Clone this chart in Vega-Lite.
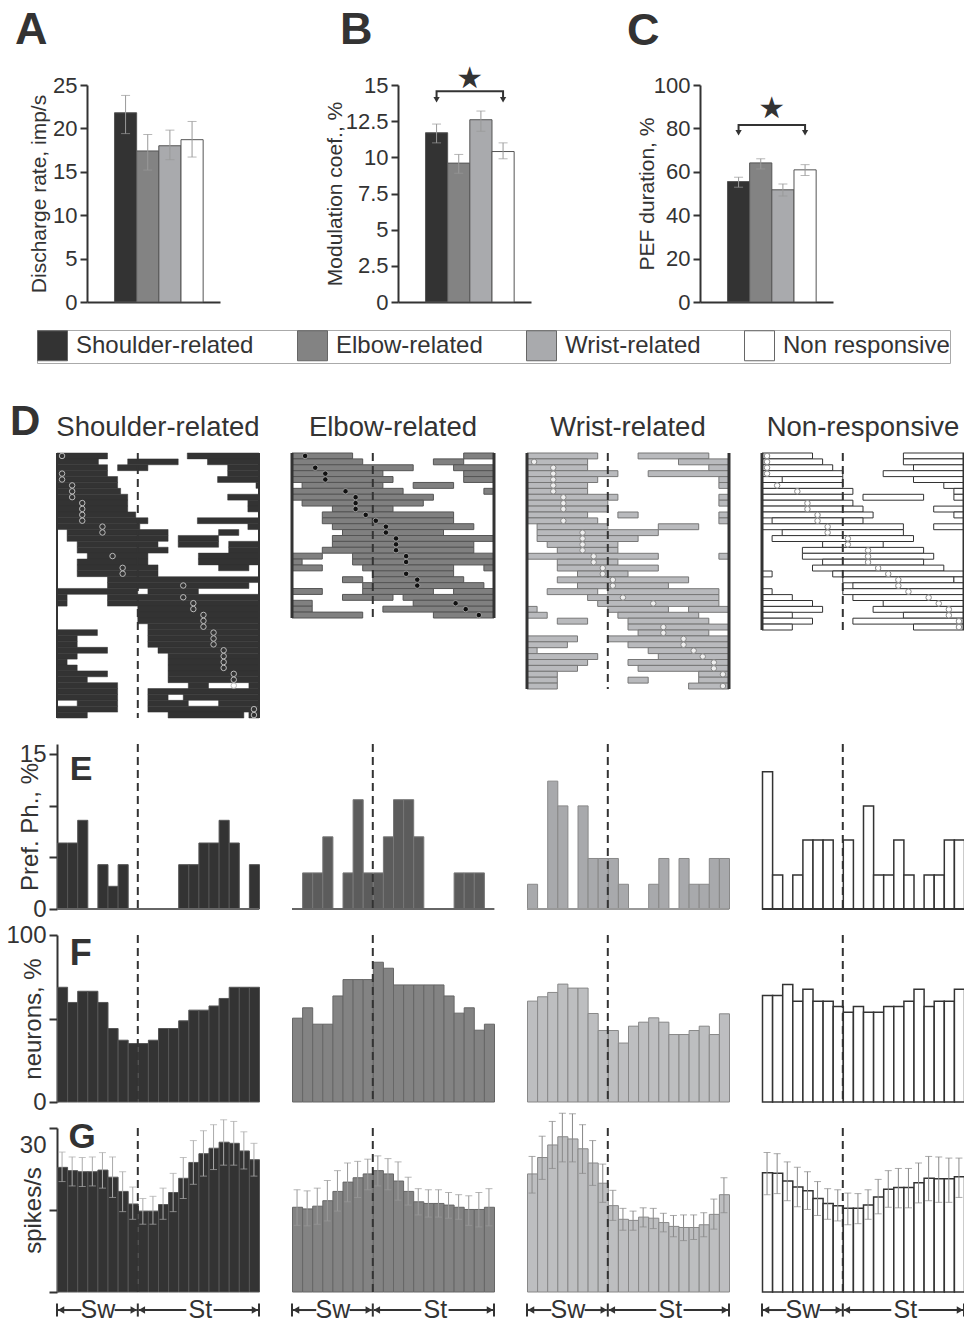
{
"$schema":"https://vega.github.io/schema/vega-lite/v6.json",
"padding":{"left":5,"top":8,"right":0,"bottom":0},
"autosize":{"type":"pad"},
"columns":4,
"bounds":"flush",
"spacing":{"row":26,"column":33},
"datasets":{
"top":[
{"group":"Shoulder-related","rate":21.8,"rate_lo":19.4,"rate_hi":23.8,"mod":11.7,"mod_lo":11.0,"mod_hi":12.3,"pef":55.5,"pef_lo":52.9,"pef_hi":57.5},
{"group":"Elbow-related","rate":17.4,"rate_lo":15.2,"rate_hi":19.3,"mod":9.6,"mod_lo":8.9,"mod_hi":10.2,"pef":64.1,"pef_lo":61.3,"pef_hi":66.0},
{"group":"Wrist-related","rate":18.0,"rate_lo":16.4,"rate_hi":19.8,"mod":12.6,"mod_lo":11.8,"mod_hi":13.2,"pef":51.7,"pef_lo":48.8,"pef_hi":54.4},
{"group":"Non responsive","rate":18.7,"rate_lo":16.7,"rate_hi":20.8,"mod":10.4,"mod_lo":9.9,"mod_hi":11.0,"pef":60.9,"pef_lo":58.3,"pef_hi":63.3}
],
"bracketB":[
{"group":"Shoulder-related","y":14.1,"o":0},{"group":"Shoulder-related","y":14.56,"o":1},{"group":"Non responsive","y":14.56,"o":2},{"group":"Non responsive","y":14.1,"o":3}
],
"headsB":[{"group":"Shoulder-related","y":13.98},{"group":"Non responsive","y":13.98}],
"starB":[{"group":"Elbow-related","y":15.4,"t":"★"}],
"bracketC":[
{"group":"Shoulder-related","y":79.0,"o":0},{"group":"Shoulder-related","y":81.6,"o":1},{"group":"Non responsive","y":81.6,"o":2},{"group":"Non responsive","y":79.0,"o":3}
],
"headsC":[{"group":"Shoulder-related","y":78.0},{"group":"Non responsive","y":78.0}],
"starC":[{"group":"Elbow-related","y":89,"t":"★"}],
"bins":[
{"g":"S","p":0.5,"pref":6.4,"pct":68.7,"spk":22.8,"lo":20.2,"hi":25.6},
{"g":"S","p":1.5,"pref":6.4,"pct":59.6,"spk":22.2,"lo":19.4,"hi":24.7},
{"g":"S","p":2.5,"pref":8.6,"pct":66.3,"spk":22.0,"lo":19.3,"hi":24.6},
{"g":"S","p":3.5,"pref":0,"pct":66.3,"spk":22.0,"lo":19.4,"hi":24.7},
{"g":"S","p":4.5,"pref":4.3,"pct":59.6,"spk":22.3,"lo":19.0,"hi":25.5},
{"g":"S","p":5.5,"pref":2.2,"pct":44,"spk":21.0,"lo":17.3,"hi":24.7},
{"g":"S","p":6.5,"pref":4.3,"pct":37,"spk":18.4,"lo":14.7,"hi":22.0},
{"g":"S","p":7.5,"pref":0,"pct":35,"spk":16.1,"lo":13.3,"hi":19.2},
{"g":"S","p":8.5,"pref":0,"pct":35,"spk":14.8,"lo":12.4,"hi":17.1},
{"g":"S","p":9.5,"pref":0,"pct":37,"spk":14.8,"lo":12.4,"hi":17.5},
{"g":"S","p":10.5,"pref":0,"pct":44,"spk":16.0,"lo":13.3,"hi":19.0},
{"g":"S","p":11.5,"pref":0,"pct":44,"spk":18.2,"lo":14.7,"hi":21.7},
{"g":"S","p":12.5,"pref":4.3,"pct":48.6,"spk":20.8,"lo":17.1,"hi":24.6},
{"g":"S","p":13.5,"pref":4.3,"pct":55,"spk":23.7,"lo":19.7,"hi":27.7},
{"g":"S","p":14.5,"pref":6.4,"pct":55,"spk":25.3,"lo":21.2,"hi":29.5},
{"g":"S","p":15.5,"pref":6.4,"pct":57.5,"spk":26.3,"lo":22.4,"hi":30.6},
{"g":"S","p":16.5,"pref":8.6,"pct":62,"spk":27.4,"lo":23.2,"hi":31.5},
{"g":"S","p":17.5,"pref":6.4,"pct":68.7,"spk":27.2,"lo":23.2,"hi":31.2},
{"g":"S","p":18.5,"pref":0,"pct":68.7,"spk":25.8,"lo":22.5,"hi":29.3},
{"g":"S","p":19.5,"pref":4.3,"pct":68.7,"spk":24.2,"lo":21.2,"hi":27.2},
{"g":"E","p":0.5,"pref":0,"pct":50.2,"spk":15.5,"lo":12.2,"hi":18.7},
{"g":"E","p":1.5,"pref":3.5,"pct":56.4,"spk":15.2,"lo":12.1,"hi":18.5},
{"g":"E","p":2.5,"pref":3.5,"pct":46.6,"spk":15.7,"lo":12.4,"hi":19.0},
{"g":"E","p":3.5,"pref":7,"pct":46.6,"spk":16.7,"lo":13.0,"hi":20.4},
{"g":"E","p":4.5,"pref":0,"pct":63.5,"spk":18.4,"lo":14.8,"hi":22.2},
{"g":"E","p":5.5,"pref":3.5,"pct":73.3,"spk":20.1,"lo":16.5,"hi":23.6},
{"g":"E","p":6.5,"pref":10.6,"pct":73.3,"spk":20.9,"lo":17.3,"hi":23.9},
{"g":"E","p":7.5,"pref":3.5,"pct":73.3,"spk":21.6,"lo":18.7,"hi":24.3},
{"g":"E","p":8.5,"pref":3.5,"pct":83.7,"spk":22.2,"lo":19.4,"hi":24.9},
{"g":"E","p":9.5,"pref":7,"pct":80.1,"spk":21.6,"lo":18.7,"hi":24.4},
{"g":"E","p":10.5,"pref":10.6,"pct":70.1,"spk":20.3,"lo":16.8,"hi":23.8},
{"g":"E","p":11.5,"pref":10.6,"pct":70.1,"spk":18.4,"lo":15.9,"hi":21.0},
{"g":"E","p":12.5,"pref":7,"pct":70.1,"spk":16.5,"lo":14.1,"hi":18.9},
{"g":"E","p":13.5,"pref":0,"pct":70.1,"spk":16.2,"lo":13.7,"hi":18.7},
{"g":"E","p":14.5,"pref":0,"pct":70.1,"spk":16.2,"lo":13.7,"hi":18.7},
{"g":"E","p":15.5,"pref":0,"pct":63.5,"spk":15.9,"lo":13.5,"hi":18.2},
{"g":"E","p":16.5,"pref":3.5,"pct":53.2,"spk":15.5,"lo":13.3,"hi":17.8},
{"g":"E","p":17.5,"pref":3.5,"pct":56.4,"spk":15.1,"lo":12.2,"hi":17.6},
{"g":"E","p":18.5,"pref":3.5,"pct":43,"spk":15.1,"lo":11.9,"hi":18.2},
{"g":"E","p":19.5,"pref":0,"pct":46.6,"spk":15.5,"lo":12.1,"hi":18.9},
{"g":"W","p":0.5,"pref":2.4,"pct":60.4,"spk":21.6,"lo":18.1,"hi":24.8},
{"g":"W","p":1.5,"pref":0,"pct":63,"spk":24.6,"lo":20.6,"hi":28.5},
{"g":"W","p":2.5,"pref":12.4,"pct":65.6,"spk":26.9,"lo":22.6,"hi":31.2},
{"g":"W","p":3.5,"pref":10,"pct":70.6,"spk":28.4,"lo":23.8,"hi":32.7},
{"g":"W","p":4.5,"pref":0,"pct":68.2,"spk":28.0,"lo":23.8,"hi":32.6},
{"g":"W","p":5.5,"pref":10,"pct":68.2,"spk":26.2,"lo":21.7,"hi":30.6},
{"g":"W","p":6.5,"pref":4.9,"pct":53,"spk":23.6,"lo":19.5,"hi":27.7},
{"g":"W","p":7.5,"pref":4.9,"pct":42.8,"spk":19.9,"lo":16.4,"hi":23.4},
{"g":"W","p":8.5,"pref":4.9,"pct":42.8,"spk":15.8,"lo":13.1,"hi":18.6},
{"g":"W","p":9.5,"pref":2.4,"pct":35.3,"spk":13.3,"lo":11.3,"hi":15.3},
{"g":"W","p":10.5,"pref":0,"pct":45.4,"spk":13.1,"lo":11.3,"hi":14.8},
{"g":"W","p":11.5,"pref":0,"pct":47.8,"spk":13.7,"lo":11.9,"hi":15.4},
{"g":"W","p":12.5,"pref":2.4,"pct":50.4,"spk":13.5,"lo":11.6,"hi":15.3},
{"g":"W","p":13.5,"pref":4.9,"pct":47.8,"spk":12.7,"lo":11.0,"hi":14.4},
{"g":"W","p":14.5,"pref":0,"pct":40.4,"spk":12.0,"lo":10.1,"hi":14.0},
{"g":"W","p":15.5,"pref":4.9,"pct":40.4,"spk":11.8,"lo":9.4,"hi":14.1},
{"g":"W","p":16.5,"pref":2.4,"pct":42.8,"spk":11.8,"lo":9.6,"hi":14.1},
{"g":"W","p":17.5,"pref":2.4,"pct":45.4,"spk":12.3,"lo":10.1,"hi":14.5},
{"g":"W","p":18.5,"pref":4.9,"pct":40.4,"spk":14.2,"lo":11.5,"hi":17.0},
{"g":"W","p":19.5,"pref":4.9,"pct":52.8,"spk":17.8,"lo":14.5,"hi":20.9},
{"g":"N","p":0.5,"pref":13.3,"pct":63.8,"spk":21.8,"lo":17.8,"hi":25.5},
{"g":"N","p":1.5,"pref":3.3,"pct":63.8,"spk":21.7,"lo":18.0,"hi":25.3},
{"g":"N","p":2.5,"pref":0,"pct":70.4,"spk":20.3,"lo":16.7,"hi":23.8},
{"g":"N","p":3.5,"pref":3.3,"pct":60.4,"spk":19.2,"lo":15.6,"hi":22.8},
{"g":"N","p":4.5,"pref":6.7,"pct":67.5,"spk":18.5,"lo":15.1,"hi":22.0},
{"g":"N","p":5.5,"pref":6.7,"pct":60.4,"spk":17.1,"lo":14.0,"hi":20.2},
{"g":"N","p":6.5,"pref":6.7,"pct":60.4,"spk":16.2,"lo":13.3,"hi":18.9},
{"g":"N","p":7.5,"pref":0,"pct":57.2,"spk":15.8,"lo":13.0,"hi":18.7},
{"g":"N","p":8.5,"pref":6.7,"pct":53.8,"spk":15.3,"lo":12.3,"hi":18.1},
{"g":"N","p":9.5,"pref":0,"pct":57.2,"spk":15.3,"lo":12.5,"hi":18.0},
{"g":"N","p":10.5,"pref":10,"pct":53.8,"spk":15.9,"lo":13.3,"hi":18.7},
{"g":"N","p":11.5,"pref":3.3,"pct":53.8,"spk":17.4,"lo":14.3,"hi":20.6},
{"g":"N","p":12.5,"pref":3.3,"pct":57.2,"spk":18.8,"lo":15.5,"hi":22.2},
{"g":"N","p":13.5,"pref":6.7,"pct":57.2,"spk":19.1,"lo":15.4,"hi":22.6},
{"g":"N","p":14.5,"pref":3.3,"pct":60.4,"spk":19.1,"lo":15.4,"hi":22.6},
{"g":"N","p":15.5,"pref":0,"pct":67.5,"spk":20.0,"lo":16.3,"hi":23.6},
{"g":"N","p":16.5,"pref":3.3,"pct":57.2,"spk":20.8,"lo":16.7,"hi":24.8},
{"g":"N","p":17.5,"pref":3.3,"pct":60.4,"spk":20.7,"lo":16.4,"hi":24.7},
{"g":"N","p":18.5,"pref":6.7,"pct":60.4,"spk":20.7,"lo":16.4,"hi":24.5},
{"g":"N","p":19.5,"pref":6.7,"pct":67.5,"spk":21.1,"lo":17.3,"hi":24.5}
],
"seg":[
{"g":"S","r":0,"a":0,"b":5},{"g":"S","r":0,"a":12.9,"b":20},
{"g":"S","r":1,"a":0,"b":4.1},{"g":"S","r":1,"a":7,"b":12},{"g":"S","r":1,"a":14.9,"b":20},
{"g":"S","r":2,"a":0,"b":5},{"g":"S","r":2,"a":6,"b":9},{"g":"S","r":2,"a":16.9,"b":20},
{"g":"S","r":3,"a":0,"b":5},{"g":"S","r":3,"a":16.9,"b":20},
{"g":"S","r":4,"a":0,"b":6},{"g":"S","r":4,"a":15.9,"b":20},
{"g":"S","r":5,"a":0,"b":6},{"g":"S","r":5,"a":19.7,"b":20},
{"g":"S","r":6,"a":0,"b":6.3},
{"g":"S","r":7,"a":0,"b":7},{"g":"S","r":7,"a":16.9,"b":20},
{"g":"S","r":8,"a":0,"b":7},{"g":"S","r":8,"a":18.9,"b":20},
{"g":"S","r":9,"a":0,"b":7},{"g":"S","r":9,"a":18.9,"b":20},
{"g":"S","r":10,"a":0,"b":7.8},
{"g":"S","r":11,"a":0,"b":9},{"g":"S","r":11,"a":13.9,"b":20},
{"g":"S","r":12,"a":0,"b":8.2},{"g":"S","r":12,"a":18.9,"b":20},
{"g":"S","r":13,"a":1,"b":11},{"g":"S","r":13,"a":16,"b":18},
{"g":"S","r":14,"a":1,"b":11},{"g":"S","r":14,"a":12,"b":16},
{"g":"S","r":15,"a":2,"b":10},{"g":"S","r":15,"a":12,"b":16},{"g":"S","r":15,"a":17,"b":20},
{"g":"S","r":16,"a":2,"b":11},{"g":"S","r":16,"a":17,"b":20},
{"g":"S","r":17,"a":3,"b":9},{"g":"S","r":17,"a":14,"b":20},
{"g":"S","r":18,"a":2,"b":9},{"g":"S","r":18,"a":14,"b":20},
{"g":"S","r":19,"a":2,"b":10},{"g":"S","r":19,"a":16,"b":19},
{"g":"S","r":20,"a":2,"b":10},
{"g":"S","r":21,"a":5,"b":20},
{"g":"S","r":22,"a":5,"b":19},
{"g":"S","r":23,"a":0,"b":8},{"g":"S","r":23,"a":9,"b":14},
{"g":"S","r":24,"a":0,"b":1},{"g":"S","r":24,"a":5,"b":20},
{"g":"S","r":25,"a":0,"b":1},{"g":"S","r":25,"a":5,"b":20},
{"g":"S","r":26,"a":8,"b":20},
{"g":"S","r":27,"a":8,"b":20},
{"g":"S","r":28,"a":8,"b":20},
{"g":"S","r":29,"a":9,"b":20},
{"g":"S","r":30,"a":0,"b":4},{"g":"S","r":30,"a":9,"b":20},
{"g":"S","r":31,"a":0,"b":2},{"g":"S","r":31,"a":9,"b":20},
{"g":"S","r":32,"a":0,"b":2},{"g":"S","r":32,"a":9,"b":20},
{"g":"S","r":33,"a":0,"b":5},{"g":"S","r":33,"a":10,"b":20},
{"g":"S","r":34,"a":0,"b":2},{"g":"S","r":34,"a":11,"b":20},
{"g":"S","r":35,"a":0,"b":1},{"g":"S","r":35,"a":11,"b":20},
{"g":"S","r":36,"a":0,"b":2},{"g":"S","r":36,"a":11,"b":20},
{"g":"S","r":37,"a":0,"b":5},{"g":"S","r":37,"a":11,"b":20},
{"g":"S","r":38,"a":0,"b":3},{"g":"S","r":38,"a":11,"b":20},
{"g":"S","r":39,"a":0,"b":6},{"g":"S","r":39,"a":13,"b":15},{"g":"S","r":39,"a":19,"b":20},
{"g":"S","r":40,"a":0,"b":6},{"g":"S","r":40,"a":9,"b":20},
{"g":"S","r":41,"a":0,"b":6},{"g":"S","r":41,"a":9,"b":11},{"g":"S","r":41,"a":12.5,"b":20},
{"g":"S","r":42,"a":2,"b":6},{"g":"S","r":42,"a":9,"b":13},{"g":"S","r":42,"a":16,"b":20},
{"g":"S","r":43,"a":0,"b":6},{"g":"S","r":43,"a":9,"b":20},
{"g":"S","r":44,"a":0,"b":3},{"g":"S","r":44,"a":11,"b":18.5},{"g":"S","r":44,"a":19,"b":20},
{"g":"E","r":0,"a":0,"b":6},{"g":"E","r":0,"a":17,"b":20},
{"g":"E","r":1,"a":0,"b":7},{"g":"E","r":1,"a":14,"b":17},
{"g":"E","r":2,"a":0,"b":12},{"g":"E","r":2,"a":16,"b":20},
{"g":"E","r":3,"a":0,"b":9},{"g":"E","r":3,"a":17,"b":20},
{"g":"E","r":4,"a":0,"b":10},{"g":"E","r":4,"a":17,"b":20},
{"g":"E","r":5,"a":1,"b":9},{"g":"E","r":5,"a":12,"b":16},
{"g":"E","r":6,"a":0,"b":11},{"g":"E","r":6,"a":19,"b":20},
{"g":"E","r":7,"a":0,"b":14},
{"g":"E","r":8,"a":1,"b":13},
{"g":"E","r":9,"a":4,"b":10},
{"g":"E","r":10,"a":3,"b":16},
{"g":"E","r":11,"a":3,"b":16},
{"g":"E","r":12,"a":4,"b":18},
{"g":"E","r":13,"a":5,"b":15},
{"g":"E","r":14,"a":4,"b":20},
{"g":"E","r":15,"a":4,"b":18},
{"g":"E","r":16,"a":3,"b":18},
{"g":"E","r":17,"a":0,"b":3},{"g":"E","r":17,"a":6,"b":20},
{"g":"E","r":18,"a":0,"b":1},{"g":"E","r":18,"a":6,"b":20},
{"g":"E","r":19,"a":0,"b":3},{"g":"E","r":19,"a":7,"b":16},{"g":"E","r":19,"a":19,"b":20},
{"g":"E","r":20,"a":8,"b":16},
{"g":"E","r":21,"a":5,"b":7},{"g":"E","r":21,"a":8,"b":17},
{"g":"E","r":22,"a":7,"b":19},
{"g":"E","r":23,"a":0,"b":3},{"g":"E","r":23,"a":7,"b":14},{"g":"E","r":23,"a":16,"b":20},
{"g":"E","r":24,"a":5,"b":10},{"g":"E","r":24,"a":11,"b":20},
{"g":"E","r":25,"a":0,"b":2},{"g":"E","r":25,"a":12,"b":20},
{"g":"E","r":26,"a":0,"b":2},{"g":"E","r":26,"a":9,"b":20},
{"g":"E","r":27,"a":0,"b":7},{"g":"E","r":27,"a":14,"b":20},
{"g":"W","r":0,"a":0,"b":7},{"g":"W","r":0,"a":11,"b":18},
{"g":"W","r":1,"a":0,"b":6},{"g":"W","r":1,"a":15,"b":20},
{"g":"W","r":2,"a":0,"b":6},{"g":"W","r":2,"a":18,"b":20},
{"g":"W","r":3,"a":0,"b":9},{"g":"W","r":3,"a":12,"b":20},
{"g":"W","r":4,"a":0,"b":7},{"g":"W","r":4,"a":19,"b":20},
{"g":"W","r":5,"a":0,"b":6},{"g":"W","r":5,"a":19,"b":20},
{"g":"W","r":6,"a":0,"b":6},
{"g":"W","r":7,"a":0,"b":9},{"g":"W","r":7,"a":19,"b":20},
{"g":"W","r":8,"a":0,"b":8},{"g":"W","r":8,"a":19,"b":20},
{"g":"W","r":9,"a":0,"b":8},
{"g":"W","r":10,"a":0,"b":6},{"g":"W","r":10,"a":9,"b":11},{"g":"W","r":10,"a":19,"b":20},
{"g":"W","r":11,"a":0,"b":7},{"g":"W","r":11,"a":19,"b":20},
{"g":"W","r":12,"a":1,"b":8},{"g":"W","r":12,"a":13,"b":17},
{"g":"W","r":13,"a":1,"b":13},
{"g":"W","r":14,"a":1,"b":11},
{"g":"W","r":15,"a":2,"b":9},
{"g":"W","r":16,"a":3,"b":9},
{"g":"W","r":17,"a":0,"b":13},{"g":"W","r":17,"a":19,"b":20},
{"g":"W","r":18,"a":3,"b":9},
{"g":"W","r":19,"a":3,"b":13},
{"g":"W","r":20,"a":5,"b":10},
{"g":"W","r":21,"a":3,"b":16},
{"g":"W","r":22,"a":5,"b":14},
{"g":"W","r":23,"a":2,"b":7},{"g":"W","r":23,"a":8,"b":19},
{"g":"W","r":24,"a":6,"b":19},
{"g":"W","r":25,"a":7,"b":19},
{"g":"W","r":26,"a":0,"b":1},{"g":"W","r":26,"a":8,"b":14},{"g":"W","r":26,"a":16,"b":20},
{"g":"W","r":27,"a":0,"b":2},{"g":"W","r":27,"a":9,"b":17},
{"g":"W","r":28,"a":3,"b":6},{"g":"W","r":28,"a":10,"b":18},
{"g":"W","r":29,"a":10,"b":20},
{"g":"W","r":30,"a":11,"b":18},
{"g":"W","r":31,"a":0,"b":5},{"g":"W","r":31,"a":8,"b":20},
{"g":"W","r":32,"a":0,"b":4},{"g":"W","r":32,"a":10,"b":20},
{"g":"W","r":33,"a":0,"b":1},{"g":"W","r":33,"a":12,"b":20},
{"g":"W","r":34,"a":0,"b":7},{"g":"W","r":34,"a":13,"b":20},
{"g":"W","r":35,"a":0,"b":6},{"g":"W","r":35,"a":10,"b":20},
{"g":"W","r":36,"a":0,"b":5},{"g":"W","r":36,"a":11,"b":20},
{"g":"W","r":37,"a":0,"b":3},{"g":"W","r":37,"a":17,"b":20},
{"g":"W","r":38,"a":0,"b":3},{"g":"W","r":38,"a":10,"b":12},{"g":"W","r":38,"a":17,"b":20},
{"g":"W","r":39,"a":0,"b":3},{"g":"W","r":39,"a":16,"b":20},
{"g":"N","r":0,"a":0,"b":5},{"g":"N","r":0,"a":14,"b":20},
{"g":"N","r":1,"a":0,"b":6},{"g":"N","r":1,"a":14,"b":20},
{"g":"N","r":2,"a":0,"b":7},{"g":"N","r":2,"a":15,"b":20},
{"g":"N","r":3,"a":0,"b":8},{"g":"N","r":3,"a":12,"b":20},
{"g":"N","r":4,"a":2,"b":8},{"g":"N","r":4,"a":15,"b":20},
{"g":"N","r":5,"a":0,"b":8},{"g":"N","r":5,"a":18,"b":20},
{"g":"N","r":6,"a":0,"b":9},{"g":"N","r":6,"a":19,"b":20},
{"g":"N","r":7,"a":0,"b":8},{"g":"N","r":7,"a":10,"b":16},{"g":"N","r":7,"a":19,"b":20},
{"g":"N","r":8,"a":0,"b":9},
{"g":"N","r":9,"a":0,"b":10},{"g":"N","r":9,"a":17,"b":20},
{"g":"N","r":10,"a":0,"b":11},{"g":"N","r":10,"a":19,"b":20},
{"g":"N","r":11,"a":1,"b":10},
{"g":"N","r":12,"a":0,"b":14},{"g":"N","r":12,"a":17,"b":20},
{"g":"N","r":13,"a":2,"b":14},
{"g":"N","r":14,"a":1,"b":15},
{"g":"N","r":15,"a":6,"b":12},
{"g":"N","r":16,"a":4,"b":16},
{"g":"N","r":17,"a":4,"b":17},
{"g":"N","r":18,"a":6,"b":16},
{"g":"N","r":19,"a":5,"b":18},
{"g":"N","r":20,"a":0,"b":1},{"g":"N","r":20,"a":7,"b":20},
{"g":"N","r":21,"a":8,"b":19},{"g":"N","r":21,"a":19,"b":20},
{"g":"N","r":22,"a":9,"b":20},
{"g":"N","r":23,"a":0,"b":1},{"g":"N","r":23,"a":8,"b":20},
{"g":"N","r":24,"a":0,"b":3},{"g":"N","r":24,"a":9,"b":20},
{"g":"N","r":25,"a":0,"b":5},{"g":"N","r":25,"a":12,"b":20},
{"g":"N","r":26,"a":0,"b":6},{"g":"N","r":26,"a":11,"b":20},
{"g":"N","r":27,"a":0,"b":3},{"g":"N","r":27,"a":14,"b":20},
{"g":"N","r":28,"a":0,"b":5},{"g":"N","r":28,"a":9,"b":20},
{"g":"N","r":29,"a":0,"b":3},{"g":"N","r":29,"a":15,"b":20}
],
"circ":[
{"g":"S","r":0,"p":0.5},{"g":"S","r":3,"p":0.5},{"g":"S","r":4,"p":0.5},{"g":"S","r":5,"p":1.5},{"g":"S","r":6,"p":1.5},{"g":"S","r":7,"p":1.5},
{"g":"S","r":8,"p":2.5},{"g":"S","r":9,"p":2.5},{"g":"S","r":10,"p":2.5},{"g":"S","r":11,"p":2.5},{"g":"S","r":12,"p":4.5},{"g":"S","r":13,"p":4.5},
{"g":"S","r":17,"p":5.5},{"g":"S","r":19,"p":6.5},{"g":"S","r":20,"p":6.5},{"g":"S","r":22,"p":12.5},{"g":"S","r":24,"p":12.5},{"g":"S","r":25,"p":13.5},
{"g":"S","r":26,"p":13.5},{"g":"S","r":27,"p":14.5},{"g":"S","r":28,"p":14.5},{"g":"S","r":29,"p":14.5},{"g":"S","r":30,"p":15.5},{"g":"S","r":31,"p":15.5},
{"g":"S","r":32,"p":15.5},{"g":"S","r":33,"p":16.5},{"g":"S","r":34,"p":16.5},{"g":"S","r":35,"p":16.5},{"g":"S","r":36,"p":16.5},{"g":"S","r":37,"p":17.5},
{"g":"S","r":38,"p":17.5},{"g":"S","r":39,"p":17.5},{"g":"S","r":43,"p":19.5},{"g":"S","r":44,"p":19.5},
{"g":"E","r":0,"p":1.3},{"g":"E","r":2,"p":2.3},{"g":"E","r":3,"p":3.3},{"g":"E","r":4,"p":3.3},{"g":"E","r":6,"p":5.3},{"g":"E","r":7,"p":6.3},
{"g":"E","r":8,"p":6.3},{"g":"E","r":9,"p":6.3},{"g":"E","r":10,"p":7.3},{"g":"E","r":11,"p":8.3},{"g":"E","r":12,"p":9.3},{"g":"E","r":13,"p":9.3},
{"g":"E","r":14,"p":10.3},{"g":"E","r":15,"p":10.3},{"g":"E","r":16,"p":10.3},{"g":"E","r":17,"p":11.3},{"g":"E","r":18,"p":11.3},{"g":"E","r":20,"p":11.3},
{"g":"E","r":21,"p":12.4},{"g":"E","r":22,"p":12.4},{"g":"E","r":25,"p":16.2},{"g":"E","r":26,"p":17.2},{"g":"E","r":27,"p":18.5},
{"g":"W","r":1,"p":0.7},{"g":"W","r":2,"p":2.6},{"g":"W","r":3,"p":2.6},{"g":"W","r":4,"p":2.6},{"g":"W","r":5,"p":2.6},{"g":"W","r":6,"p":2.6},
{"g":"W","r":7,"p":3.6},{"g":"W","r":8,"p":3.6},{"g":"W","r":9,"p":3.6},{"g":"W","r":11,"p":3.6},{"g":"W","r":13,"p":5.5},{"g":"W","r":14,"p":5.5},
{"g":"W","r":15,"p":5.5},{"g":"W","r":16,"p":5.5},{"g":"W","r":17,"p":6.6},{"g":"W","r":18,"p":6.6},{"g":"W","r":19,"p":7.5},{"g":"W","r":20,"p":7.5},
{"g":"W","r":21,"p":8.5},{"g":"W","r":22,"p":8.5},{"g":"W","r":24,"p":9.5},{"g":"W","r":25,"p":12.5},{"g":"W","r":29,"p":13.5},{"g":"W","r":30,"p":13.5},
{"g":"W","r":31,"p":15.5},{"g":"W","r":32,"p":15.5},{"g":"W","r":33,"p":16.5},{"g":"W","r":34,"p":17.4},{"g":"W","r":35,"p":18.5},{"g":"W","r":36,"p":18.5},
{"g":"W","r":37,"p":19.4},{"g":"W","r":39,"p":19.4},
{"g":"N","r":0,"p":0.5},{"g":"N","r":1,"p":0.5},{"g":"N","r":2,"p":0.5},{"g":"N","r":3,"p":0.5},{"g":"N","r":5,"p":1.5},{"g":"N","r":6,"p":3.5},
{"g":"N","r":8,"p":4.5},{"g":"N","r":9,"p":4.5},{"g":"N","r":10,"p":5.5},{"g":"N","r":11,"p":5.5},{"g":"N","r":12,"p":6.5},{"g":"N","r":13,"p":6.5},
{"g":"N","r":14,"p":8.5},{"g":"N","r":15,"p":8.5},{"g":"N","r":16,"p":10.5},{"g":"N","r":17,"p":10.5},{"g":"N","r":18,"p":10.5},{"g":"N","r":19,"p":11.5},
{"g":"N","r":20,"p":12.5},{"g":"N","r":21,"p":13.5},{"g":"N","r":22,"p":13.5},{"g":"N","r":23,"p":14.5},{"g":"N","r":24,"p":16.5},{"g":"N","r":25,"p":17.5},
{"g":"N","r":26,"p":18.5},{"g":"N","r":27,"p":18.5},{"g":"N","r":28,"p":19.5},{"g":"N","r":29,"p":19.5}
],
"edges":[{"e":0},{"e":20}],
"arrows":[{"from":0.1,"to":2.4},{"from":5.7,"to":7.9},{"from":8.1,"to":12.8},{"from":15.5,"to":19.9}],
"heads":[{"at":0.4,"dir":"triangle-left"},{"at":7.6,"dir":"triangle-right"},{"at":8.4,"dir":"triangle-left"},{"at":19.6,"dir":"triangle-right"}],
"stops":[{"at":0},{"at":8},{"at":20}],
"phases":[{"t":"Sw","at":4.05},{"t":"St","at":14.2}]
},
"concat":[
 {"width":202,"height":217,
  "title":{"text":"A","anchor":"start","frame":"group","fontSize":45,"fontWeight":"bold","baseline":"alphabetic","offset":-15,"dx":-42,"color":"#333"},
  "data":{"name":"top"},
  "layer":[
   {"mark":{"type":"bar","stroke":"#555","strokeWidth":1},
    "encoding":{
     "x":{"field":"group","type":"nominal","scale":{"domain":["Shoulder-related","Elbow-related","Wrist-related","Non responsive"],"range":[30,163],"paddingInner":0,"paddingOuter":1.095,"align":0.62},"axis":{"labels":false,"ticks":false,"title":null}},
     "y":{"field":"rate","type":"quantitative","scale":{"domain":[0,25],"nice":false},"axis":{"values":[0,5,10,15,20,25],"title":"Discharge rate, imp/s","titleFontSize":21,"titleX":-38,"offset":-30,"labelOverlap":false}},
     "color":{"field":"group","type":"nominal","scale":{"domain":["Shoulder-related","Elbow-related","Wrist-related","Non responsive"],"range":["#333333","#838383","#a9aaad","#ffffff"]},
      "legend":{"orient":"none","legendX":-20,"legendY":245,"direction":"horizontal","title":null,"symbolType":"square","symbolSize":900,"symbolStrokeColor":"#666","symbolStrokeWidth":1,"symbolOpacity":1,"labelFontSize":24,"labelOffset":8,"labelColor":"#333","columnPadding":41,"padding":0,"strokeColor":"#aaa","labelLimit":400}}}},
   {"mark":{"type":"errorbar","ticks":true,"color":"#999","size":9,"thickness":1},
    "encoding":{"x":{"field":"group","type":"nominal"},"y":{"field":"rate_lo","type":"quantitative","scale":{"domain":[0,25],"nice":false},"axis":{"values":[0,5,10,15,20,25],"title":"Discharge rate, imp/s","titleFontSize":21,"titleX":-38,"offset":-30,"labelOverlap":false}},"y2":{"field":"rate_hi"}}}
  ]},
 {"width":202,"height":217,
  "title":{"text":"B","anchor":"start","frame":"group","fontSize":45,"fontWeight":"bold","baseline":"alphabetic","offset":-25,"dx":48,"color":"#333"},
  "layer":[
   {"data":{"name":"top"},"mark":{"type":"bar","stroke":"#555","strokeWidth":1},
    "encoding":{
     "x":{"field":"group","type":"nominal","scale":{"domain":["Shoulder-related","Elbow-related","Wrist-related","Non responsive"],"range":[106,239],"paddingInner":0,"paddingOuter":1.095,"align":0.62},"axis":{"labels":false,"ticks":false,"title":null}},
     "y":{"field":"mod","type":"quantitative","scale":{"domain":[0,15],"nice":false},"axis":{"values":[0,2.5,5,7.5,10,12.5,15],"format":".3~f","title":"Modulation coef., %","titleFontSize":21,"titleX":-53,"offset":-106,"labelOverlap":false}},
     "color":{"field":"group","type":"nominal","scale":{"domain":["Shoulder-related","Elbow-related","Wrist-related","Non responsive"],"range":["#333333","#838383","#a9aaad","#ffffff"]},
      "legend":{"orient":"none","legendX":-20,"legendY":245,"direction":"horizontal","title":null,"symbolType":"square","symbolSize":900,"symbolStrokeColor":"#666","symbolStrokeWidth":1,"symbolOpacity":1,"labelFontSize":24,"labelOffset":8,"labelColor":"#333","columnPadding":41,"padding":0,"strokeColor":"#aaa","labelLimit":400}}}},
   {"data":{"name":"top"},"mark":{"type":"errorbar","ticks":true,"color":"#999","size":9,"thickness":1},
    "encoding":{"x":{"field":"group","type":"nominal"},"y":{"field":"mod_lo","type":"quantitative","scale":{"domain":[0,15],"nice":false},"axis":{"values":[0,2.5,5,7.5,10,12.5,15],"format":".3~f","title":"Modulation coef., %","titleFontSize":21,"titleX":-53,"offset":-106,"labelOverlap":false}},"y2":{"field":"mod_hi"}}},
   {"data":{"name":"bracketB"},"mark":{"type":"line","color":"#333","strokeWidth":2},
    "encoding":{"x":{"field":"group","type":"nominal"},"y":{"field":"y","type":"quantitative","scale":{"domain":[0,15],"nice":false},"axis":{"values":[0,2.5,5,7.5,10,12.5,15],"format":".3~f","title":"Modulation coef., %","titleFontSize":21,"titleX":-53,"offset":-106,"labelOverlap":false}},"order":{"field":"o"}}},
   {"data":{"name":"headsB"},"mark":{"type":"point","shape":"triangle-down","filled":true,"color":"#333","size":40,"opacity":1},
    "encoding":{"x":{"field":"group","type":"nominal"},"y":{"field":"y","type":"quantitative","scale":{"domain":[0,15],"nice":false},"axis":{"values":[0,2.5,5,7.5,10,12.5,15],"format":".3~f","title":"Modulation coef., %","titleFontSize":21,"titleX":-53,"offset":-106,"labelOverlap":false}}}},
   {"data":{"name":"starB"},"mark":{"type":"text","font":"DejaVu Sans","fontSize":30,"color":"#333","baseline":"middle","align":"center"},
    "encoding":{"x":{"field":"group","type":"nominal","bandPosition":1},"y":{"field":"y","type":"quantitative","scale":{"domain":[0,15],"nice":false},"axis":{"values":[0,2.5,5,7.5,10,12.5,15],"format":".3~f","title":"Modulation coef., %","titleFontSize":21,"titleX":-53,"offset":-106,"labelOverlap":false}},"text":{"field":"t"}}}
  ]},
 {"width":202,"height":217,
  "title":{"text":"C","anchor":"start","frame":"group","fontSize":45,"fontWeight":"bold","baseline":"alphabetic","offset":-16,"dx":100,"color":"#333"},
  "layer":[
   {"data":{"name":"top"},"mark":{"type":"bar","stroke":"#555","strokeWidth":1},
    "encoding":{
     "x":{"field":"group","type":"nominal","scale":{"domain":["Shoulder-related","Elbow-related","Wrist-related","Non responsive"],"range":[173,306],"paddingInner":0,"paddingOuter":1.095,"align":0.62},"axis":{"labels":false,"ticks":false,"title":null}},
     "y":{"field":"pef","type":"quantitative","scale":{"domain":[0,100],"nice":false},"axis":{"values":[0,20,40,60,80,100],"title":"PEF duration, %","titleFontSize":21,"titleX":-43,"offset":-173,"labelOverlap":false}},
     "color":{"field":"group","type":"nominal","scale":{"domain":["Shoulder-related","Elbow-related","Wrist-related","Non responsive"],"range":["#333333","#838383","#a9aaad","#ffffff"]},
      "legend":{"orient":"none","legendX":-20,"legendY":245,"direction":"horizontal","title":null,"symbolType":"square","symbolSize":900,"symbolStrokeColor":"#666","symbolStrokeWidth":1,"symbolOpacity":1,"labelFontSize":24,"labelOffset":8,"labelColor":"#333","columnPadding":41,"padding":0,"strokeColor":"#aaa","labelLimit":400}}}},
   {"data":{"name":"top"},"mark":{"type":"errorbar","ticks":true,"color":"#999","size":9,"thickness":1},
    "encoding":{"x":{"field":"group","type":"nominal"},"y":{"field":"pef_lo","type":"quantitative","scale":{"domain":[0,100],"nice":false},"axis":{"values":[0,20,40,60,80,100],"title":"PEF duration, %","titleFontSize":21,"titleX":-43,"offset":-173,"labelOverlap":false}},"y2":{"field":"pef_hi"}}},
   {"data":{"name":"bracketC"},"mark":{"type":"line","color":"#333","strokeWidth":2},
    "encoding":{"x":{"field":"group","type":"nominal"},"y":{"field":"y","type":"quantitative","scale":{"domain":[0,100],"nice":false},"axis":{"values":[0,20,40,60,80,100],"title":"PEF duration, %","titleFontSize":21,"titleX":-43,"offset":-173,"labelOverlap":false}},"order":{"field":"o"}}},
   {"data":{"name":"headsC"},"mark":{"type":"point","shape":"triangle-down","filled":true,"color":"#333","size":40,"opacity":1},
    "encoding":{"x":{"field":"group","type":"nominal"},"y":{"field":"y","type":"quantitative","scale":{"domain":[0,100],"nice":false},"axis":{"values":[0,20,40,60,80,100],"title":"PEF duration, %","titleFontSize":21,"titleX":-43,"offset":-173,"labelOverlap":false}}}},
   {"data":{"name":"starC"},"mark":{"type":"text","font":"DejaVu Sans","fontSize":30,"color":"#333","baseline":"middle","align":"center"},
    "encoding":{"x":{"field":"group","type":"nominal","bandPosition":1},"y":{"field":"y","type":"quantitative","scale":{"domain":[0,100],"nice":false},"axis":{"values":[0,20,40,60,80,100],"title":"PEF duration, %","titleFontSize":21,"titleX":-43,"offset":-173,"labelOverlap":false}},"text":{"field":"t"}}}
  ]},
 {"width":1,"height":1,"data":{"values":[]},"mark":"point","encoding":{}},

 {"width":1,"height":99,"title":{"text":"D","orient":"bottom","anchor":"start","frame":"group","fontSize":42,"fontWeight":"bold","baseline":"alphabetic","offset":8,"dx":-47,"color":"#333"},"data":{"values":[]},"mark":"point","encoding":{}},
 {"width":1,"height":1,"data":{"values":[]},"mark":"point","encoding":{}},
 {"width":1,"height":1,"data":{"values":[]},"mark":"point","encoding":{}},
 {"width":1,"height":1,"data":{"values":[]},"mark":"point","encoding":{}},

  {"width":202,"height":265,"title":{"text":"Shoulder-related","fontSize":27.5,"fontWeight":"normal","baseline":"alphabetic","offset":-12,"color":"#333"},
   "layer":[
    {"data":{"name":"seg"},"transform":[{"filter":"datum.g=='S'"}],"mark":{"type":"bar","fill":"#333333","stroke":"#333333","strokeWidth":0.5},
     "encoding":{"x":{"field":"a","type":"quantitative","scale":{"domain":[0,20],"nice":false,"zero":false},"axis":null},"x2":{"field":"b"},"y":{"field":"r","type":"ordinal","scale":{"paddingInner":0,"paddingOuter":0},"axis":null}}},
    {"data":{"values":[{}]},"mark":{"type":"rule","color":"#333","strokeWidth":2,"strokeDash":[8,5]},"encoding":{"x":{"datum":8,"axis":null}}},
    {"data":{"name":"edges"},"mark":{"type":"rule","color":"#333","strokeWidth":2},"encoding":{"x":{"field":"e","type":"quantitative","axis":null}}},
    {"data":{"name":"circ"},"transform":[{"filter":"datum.g=='S'"}],"mark":{"type":"point","shape":"circle","size":30,"filled":false,"stroke":"#bbbbbb","strokeWidth":1,"opacity":1},
     "encoding":{"x":{"field":"p","type":"quantitative","axis":null},"y":{"field":"r","type":"ordinal","axis":null}}}
   ]},
  {"width":202,"height":165,"title":{"text":"Elbow-related","fontSize":27.5,"fontWeight":"normal","baseline":"alphabetic","offset":-12,"color":"#333"},
   "layer":[
    {"data":{"name":"seg"},"transform":[{"filter":"datum.g=='E'"}],"mark":{"type":"bar","fill":"#808080","stroke":"#555555","strokeWidth":1},
     "encoding":{"x":{"field":"a","type":"quantitative","scale":{"domain":[0,20],"nice":false,"zero":false},"axis":null},"x2":{"field":"b"},"y":{"field":"r","type":"ordinal","scale":{"paddingInner":0,"paddingOuter":0},"axis":null}}},
    {"data":{"values":[{}]},"mark":{"type":"rule","color":"#333","strokeWidth":2,"strokeDash":[8,5]},"encoding":{"x":{"datum":8,"axis":null}}},
    {"data":{"name":"edges"},"mark":{"type":"rule","color":"#333","strokeWidth":3},"encoding":{"x":{"field":"e","type":"quantitative","axis":null}}},
    {"data":{"name":"circ"},"transform":[{"filter":"datum.g=='E'"}],"mark":{"type":"point","shape":"circle","size":30,"filled":true,"fill":"#111111","stroke":"#999999","strokeWidth":1,"opacity":1},
     "encoding":{"x":{"field":"p","type":"quantitative","axis":null},"y":{"field":"r","type":"ordinal","axis":null}}}
   ]},
  {"width":202,"height":236,"title":{"text":"Wrist-related","fontSize":27.5,"fontWeight":"normal","baseline":"alphabetic","offset":-12,"color":"#333"},
   "layer":[
    {"data":{"name":"seg"},"transform":[{"filter":"datum.g=='W'"}],"mark":{"type":"bar","fill":"#b9babd","stroke":"#777777","strokeWidth":1},
     "encoding":{"x":{"field":"a","type":"quantitative","scale":{"domain":[0,20],"nice":false,"zero":false},"axis":null},"x2":{"field":"b"},"y":{"field":"r","type":"ordinal","scale":{"paddingInner":0,"paddingOuter":0},"axis":null}}},
    {"data":{"values":[{}]},"mark":{"type":"rule","color":"#333","strokeWidth":2,"strokeDash":[8,5]},"encoding":{"x":{"datum":8,"axis":null}}},
    {"data":{"name":"edges"},"mark":{"type":"rule","color":"#333","strokeWidth":3},"encoding":{"x":{"field":"e","type":"quantitative","axis":null}}},
    {"data":{"name":"circ"},"transform":[{"filter":"datum.g=='W'"}],"mark":{"type":"point","shape":"circle","size":30,"filled":true,"fill":"#eeeeee","stroke":"#888888","strokeWidth":1,"opacity":1},
     "encoding":{"x":{"field":"p","type":"quantitative","axis":null},"y":{"field":"r","type":"ordinal","axis":null}}}
   ]},
  {"width":202,"height":177,"title":{"text":"Non-responsive","fontSize":27.5,"fontWeight":"normal","baseline":"alphabetic","offset":-12,"color":"#333"},
   "layer":[
    {"data":{"name":"seg"},"transform":[{"filter":"datum.g=='N'"}],"mark":{"type":"bar","fill":"#ffffff","stroke":"#333333","strokeWidth":1},
     "encoding":{"x":{"field":"a","type":"quantitative","scale":{"domain":[0,20],"nice":false,"zero":false},"axis":null},"x2":{"field":"b"},"y":{"field":"r","type":"ordinal","scale":{"paddingInner":0,"paddingOuter":0},"axis":null}}},
    {"data":{"values":[{}]},"mark":{"type":"rule","color":"#333","strokeWidth":2,"strokeDash":[8,5]},"encoding":{"x":{"datum":8,"axis":null}}},
    {"data":{"name":"edges"},"mark":{"type":"rule","color":"#333","strokeWidth":3},"encoding":{"x":{"field":"e","type":"quantitative","axis":null}}},
    {"data":{"name":"circ"},"transform":[{"filter":"datum.g=='N'"}],"mark":{"type":"point","shape":"circle","size":30,"filled":true,"fill":"#ffffff","stroke":"#888888","strokeWidth":1,"opacity":1},
     "encoding":{"x":{"field":"p","type":"quantitative","axis":null},"y":{"field":"r","type":"ordinal","axis":null}}}
   ]},

  {"width":202,"height":165,
   "layer":[
    {"data":{"name":"bins"},"transform":[{"filter":"datum.g=='S'"}],"mark":{"type":"bar","fill":"#333333","stroke":"#555555","strokeWidth":1,"binSpacing":0},
     "encoding":{"x":{"field":"p","type":"quantitative","bin":{"step":1,"extent":[0,20]},"scale":{"domain":[0,20],"nice":false,"zero":false},"axis":null},
      "y":{"field":"pref","type":"quantitative","scale":{"domain":[0,15]},"axis":{"values":[0,5,10,15],"labelExpr":"datum.value == 0 || datum.value == 15 ? datum.label : ''","title":"Pref. Ph., %","labelFontSize":24,"titleFontSize":24,"titleX":-15,"tickSize":8}}}},
    {"data":{"values":[{}]},"mark":{"type":"rule","color":"#666","strokeWidth":2},"encoding":{"y":{"datum":0}}},
    {"data":{"values":[{}]},"mark":{"type":"rule","color":"#333","strokeWidth":2,"strokeDash":[8,5]},"encoding":{"x":{"datum":8,"axis":null}}},
    {"data":{"values":[{"t":"E"}]},"mark":{"type":"text","fontSize":34,"fontWeight":"bold","align":"left","baseline":"alphabetic","color":"#333"},"encoding":{"x":{"datum":1.25,"axis":null},"y":{"datum":12.5},"text":{"field":"t"}}}
   ]},
  {"width":202,"height":165,
   "layer":[
    {"data":{"name":"bins"},"transform":[{"filter":"datum.g=='E'"}],"mark":{"type":"bar","fill":"#5c5c5c","stroke":"#777777","strokeWidth":1,"binSpacing":0},
     "encoding":{"x":{"field":"p","type":"quantitative","bin":{"step":1,"extent":[0,20]},"scale":{"domain":[0,20],"nice":false,"zero":false},"axis":null},
      "y":{"field":"pref","type":"quantitative","scale":{"domain":[0,15]},"axis":null}}},
    {"data":{"values":[{}]},"mark":{"type":"rule","color":"#666","strokeWidth":2},"encoding":{"y":{"datum":0,"axis":null}}},
    {"data":{"values":[{}]},"mark":{"type":"rule","color":"#333","strokeWidth":2,"strokeDash":[8,5]},"encoding":{"x":{"datum":8,"axis":null}}}
   ]},
  {"width":202,"height":165,
   "layer":[
    {"data":{"name":"bins"},"transform":[{"filter":"datum.g=='W'"}],"mark":{"type":"bar","fill":"#a8a9ac","stroke":"#888888","strokeWidth":1,"binSpacing":0},
     "encoding":{"x":{"field":"p","type":"quantitative","bin":{"step":1,"extent":[0,20]},"scale":{"domain":[0,20],"nice":false,"zero":false},"axis":null},
      "y":{"field":"pref","type":"quantitative","scale":{"domain":[0,15]},"axis":null}}},
    {"data":{"values":[{}]},"mark":{"type":"rule","color":"#999","strokeWidth":2},"encoding":{"y":{"datum":0,"axis":null}}},
    {"data":{"values":[{}]},"mark":{"type":"rule","color":"#333","strokeWidth":2,"strokeDash":[8,5]},"encoding":{"x":{"datum":8,"axis":null}}}
   ]},
  {"width":202,"height":165,
   "layer":[
    {"data":{"name":"bins"},"transform":[{"filter":"datum.g=='N'"}],"mark":{"type":"bar","fill":"#ffffff","stroke":"#333333","strokeWidth":1.5,"binSpacing":0},
     "encoding":{"x":{"field":"p","type":"quantitative","bin":{"step":1,"extent":[0,20]},"scale":{"domain":[0,20],"nice":false,"zero":false},"axis":null},
      "y":{"field":"pref","type":"quantitative","scale":{"domain":[0,15]},"axis":null}}},
    {"data":{"values":[{}]},"mark":{"type":"rule","color":"#333","strokeWidth":2},"encoding":{"y":{"datum":0,"axis":null}}},
    {"data":{"values":[{}]},"mark":{"type":"rule","color":"#333","strokeWidth":2,"strokeDash":[8,5]},"encoding":{"x":{"datum":8,"axis":null}}}
   ]},

  {"width":202,"height":167,
   "layer":[
    {"data":{"name":"bins"},"transform":[{"filter":"datum.g=='S'"}],"mark":{"type":"bar","fill":"#333333","stroke":"#555555","strokeWidth":1,"binSpacing":0},
     "encoding":{"x":{"field":"p","type":"quantitative","bin":{"step":1,"extent":[0,20]},"scale":{"domain":[0,20],"nice":false,"zero":false},"axis":null},
      "y":{"field":"pct","type":"quantitative","scale":{"domain":[0,100]},"axis":{"values":[0,50,100],"labelExpr":"datum.value == 50 ? '' : datum.label","title":"neurons, %","labelFontSize":24,"titleFontSize":24,"titleX":-12,"tickSize":8}}}},
    {"data":{"values":[{}]},"mark":{"type":"rule","color":"#333","strokeWidth":2,"strokeDash":[8,5]},"encoding":{"x":{"datum":8,"axis":null}}},
    {"data":{"values":[{"t":"F"}]},"mark":{"type":"text","fontSize":36,"fontWeight":"bold","align":"left","baseline":"alphabetic","color":"#333"},"encoding":{"x":{"datum":1.25,"axis":null},"y":{"datum":82},"text":{"field":"t"}}}
   ]},
  {"width":202,"height":167,
   "layer":[
    {"data":{"name":"bins"},"transform":[{"filter":"datum.g=='E'"}],"mark":{"type":"bar","fill":"#838383","stroke":"#666666","strokeWidth":1,"binSpacing":0},
     "encoding":{"x":{"field":"p","type":"quantitative","bin":{"step":1,"extent":[0,20]},"scale":{"domain":[0,20],"nice":false,"zero":false},"axis":null},
      "y":{"field":"pct","type":"quantitative","scale":{"domain":[0,100]},"axis":null}}},
    {"data":{"values":[{}]},"mark":{"type":"rule","color":"#333","strokeWidth":2,"strokeDash":[8,5]},"encoding":{"x":{"datum":8,"axis":null}}}
   ]},
  {"width":202,"height":167,
   "layer":[
    {"data":{"name":"bins"},"transform":[{"filter":"datum.g=='W'"}],"mark":{"type":"bar","fill":"#bdbec0","stroke":"#888888","strokeWidth":1,"binSpacing":0},
     "encoding":{"x":{"field":"p","type":"quantitative","bin":{"step":1,"extent":[0,20]},"scale":{"domain":[0,20],"nice":false,"zero":false},"axis":null},
      "y":{"field":"pct","type":"quantitative","scale":{"domain":[0,100]},"axis":null}}},
    {"data":{"values":[{}]},"mark":{"type":"rule","color":"#333","strokeWidth":2,"strokeDash":[8,5]},"encoding":{"x":{"datum":8,"axis":null}}}
   ]},
  {"width":202,"height":167,
   "layer":[
    {"data":{"name":"bins"},"transform":[{"filter":"datum.g=='N'"}],"mark":{"type":"bar","fill":"#ffffff","stroke":"#333333","strokeWidth":1.5,"binSpacing":0},
     "encoding":{"x":{"field":"p","type":"quantitative","bin":{"step":1,"extent":[0,20]},"scale":{"domain":[0,20],"nice":false,"zero":false},"axis":null},
      "y":{"field":"pct","type":"quantitative","scale":{"domain":[0,100]},"axis":null}}},
    {"data":{"values":[{}]},"mark":{"type":"rule","color":"#333","strokeWidth":2,"strokeDash":[8,5]},"encoding":{"x":{"datum":8,"axis":null}}}
   ]},

  {"width":202,"height":164,
   "layer":[
    {"data":{"name":"bins"},"transform":[{"filter":"datum.g=='S'"}],"mark":{"type":"bar","fill":"#333333","stroke":"#555555","strokeWidth":1,"binSpacing":0},
     "encoding":{"x":{"field":"p","type":"quantitative","bin":{"step":1,"extent":[0,20]},"scale":{"domain":[0,20],"nice":false,"zero":false},"axis":null},
      "y":{"field":"spk","type":"quantitative","scale":{"domain":[0,30]},"axis":{"values":[0,15,30],"labelExpr":"datum.value == 30 ? '30' : ''","title":"spikes/s","labelFontSize":24,"titleFontSize":24,"titleX":-12,"tickSize":8,"labelOffset":17}}}},
    {"data":{"name":"bins"},"transform":[{"filter":"datum.g=='S'"}],"mark":{"type":"errorbar","ticks":true,"color":"#aaaaaa","size":7,"thickness":1},
     "encoding":{"x":{"field":"p","type":"quantitative","axis":null},"y":{"field":"lo","type":"quantitative","title":"spikes/s"},"y2":{"field":"hi"}}},
    {"data":{"values":[{}]},"mark":{"type":"rule","color":"#333","strokeWidth":2,"strokeDash":[8,5]},"encoding":{"x":{"datum":8,"axis":null}}},
    {"data":{"name":"arrows"},"mark":{"type":"rule","color":"#333","strokeWidth":2},"encoding":{"x":{"field":"from","type":"quantitative","axis":null},"x2":{"field":"to"},"y":{"datum":-3.3}}},
    {"data":{"name":"heads"},"mark":{"type":"point","filled":true,"color":"#333","size":55,"opacity":1},"encoding":{"x":{"field":"at","type":"quantitative","axis":null},"y":{"datum":-3.3},"shape":{"field":"dir","type":"nominal","scale":null}}},
    {"data":{"name":"stops"},"mark":{"type":"rule","color":"#333","strokeWidth":2},"encoding":{"x":{"field":"at","type":"quantitative","axis":null},"y":{"datum":-2.1},"y2":{"datum":-4.5}}},
    {"data":{"name":"phases"},"mark":{"type":"text","fontSize":25,"color":"#333","baseline":"middle","align":"center"},"encoding":{"x":{"field":"at","type":"quantitative","axis":null},"y":{"datum":-3.3},"text":{"field":"t"}}},
    {"data":{"values":[{"t":"G"}]},"mark":{"type":"text","fontSize":35,"fontWeight":"bold","align":"left","baseline":"alphabetic","color":"#333"},"encoding":{"x":{"datum":1.15,"axis":null},"y":{"datum":26.3},"text":{"field":"t"}}}
   ]},
  {"width":202,"height":164,
   "layer":[
    {"data":{"name":"bins"},"transform":[{"filter":"datum.g=='E'"}],"mark":{"type":"bar","fill":"#838383","stroke":"#666666","strokeWidth":1,"binSpacing":0},
     "encoding":{"x":{"field":"p","type":"quantitative","bin":{"step":1,"extent":[0,20]},"scale":{"domain":[0,20],"nice":false,"zero":false},"axis":null},
      "y":{"field":"spk","type":"quantitative","scale":{"domain":[0,30]},"axis":null}}},
    {"data":{"name":"bins"},"transform":[{"filter":"datum.g=='E'"}],"mark":{"type":"errorbar","ticks":true,"color":"#999999","size":7,"thickness":1},
     "encoding":{"x":{"field":"p","type":"quantitative","axis":null},"y":{"field":"lo","type":"quantitative","axis":null},"y2":{"field":"hi"}}},
    {"data":{"values":[{}]},"mark":{"type":"rule","color":"#333","strokeWidth":2,"strokeDash":[8,5]},"encoding":{"x":{"datum":8,"axis":null}}},
    {"data":{"name":"arrows"},"mark":{"type":"rule","color":"#333","strokeWidth":2},"encoding":{"x":{"field":"from","type":"quantitative","axis":null},"x2":{"field":"to"},"y":{"datum":-3.3,"axis":null}}},
    {"data":{"name":"heads"},"mark":{"type":"point","filled":true,"color":"#333","size":55,"opacity":1},"encoding":{"x":{"field":"at","type":"quantitative","axis":null},"y":{"datum":-3.3,"axis":null},"shape":{"field":"dir","type":"nominal","scale":null}}},
    {"data":{"name":"stops"},"mark":{"type":"rule","color":"#333","strokeWidth":2},"encoding":{"x":{"field":"at","type":"quantitative","axis":null},"y":{"datum":-2.1,"axis":null},"y2":{"datum":-4.5}}},
    {"data":{"name":"phases"},"mark":{"type":"text","fontSize":25,"color":"#333","baseline":"middle","align":"center"},"encoding":{"x":{"field":"at","type":"quantitative","axis":null},"y":{"datum":-3.3,"axis":null},"text":{"field":"t"}}}
   ]},
  {"width":202,"height":164,
   "layer":[
    {"data":{"name":"bins"},"transform":[{"filter":"datum.g=='W'"}],"mark":{"type":"bar","fill":"#bdbec0","stroke":"#888888","strokeWidth":1,"binSpacing":0},
     "encoding":{"x":{"field":"p","type":"quantitative","bin":{"step":1,"extent":[0,20]},"scale":{"domain":[0,20],"nice":false,"zero":false},"axis":null},
      "y":{"field":"spk","type":"quantitative","scale":{"domain":[0,30]},"axis":null}}},
    {"data":{"name":"bins"},"transform":[{"filter":"datum.g=='W'"}],"mark":{"type":"errorbar","ticks":true,"color":"#888888","size":7,"thickness":1},
     "encoding":{"x":{"field":"p","type":"quantitative","axis":null},"y":{"field":"lo","type":"quantitative","axis":null},"y2":{"field":"hi"}}},
    {"data":{"values":[{}]},"mark":{"type":"rule","color":"#333","strokeWidth":2,"strokeDash":[8,5]},"encoding":{"x":{"datum":8,"axis":null}}},
    {"data":{"name":"arrows"},"mark":{"type":"rule","color":"#333","strokeWidth":2},"encoding":{"x":{"field":"from","type":"quantitative","axis":null},"x2":{"field":"to"},"y":{"datum":-3.3,"axis":null}}},
    {"data":{"name":"heads"},"mark":{"type":"point","filled":true,"color":"#333","size":55,"opacity":1},"encoding":{"x":{"field":"at","type":"quantitative","axis":null},"y":{"datum":-3.3,"axis":null},"shape":{"field":"dir","type":"nominal","scale":null}}},
    {"data":{"name":"stops"},"mark":{"type":"rule","color":"#333","strokeWidth":2},"encoding":{"x":{"field":"at","type":"quantitative","axis":null},"y":{"datum":-2.1,"axis":null},"y2":{"datum":-4.5}}},
    {"data":{"name":"phases"},"mark":{"type":"text","fontSize":25,"color":"#333","baseline":"middle","align":"center"},"encoding":{"x":{"field":"at","type":"quantitative","axis":null},"y":{"datum":-3.3,"axis":null},"text":{"field":"t"}}}
   ]},
  {"width":202,"height":164,
   "layer":[
    {"data":{"name":"bins"},"transform":[{"filter":"datum.g=='N'"}],"mark":{"type":"bar","fill":"#ffffff","stroke":"#333333","strokeWidth":1.5,"binSpacing":0},
     "encoding":{"x":{"field":"p","type":"quantitative","bin":{"step":1,"extent":[0,20]},"scale":{"domain":[0,20],"nice":false,"zero":false},"axis":null},
      "y":{"field":"spk","type":"quantitative","scale":{"domain":[0,30]},"axis":null}}},
    {"data":{"name":"bins"},"transform":[{"filter":"datum.g=='N'"}],"mark":{"type":"errorbar","ticks":true,"color":"#888888","size":7,"thickness":1},
     "encoding":{"x":{"field":"p","type":"quantitative","axis":null},"y":{"field":"lo","type":"quantitative","axis":null},"y2":{"field":"hi"}}},
    {"data":{"values":[{}]},"mark":{"type":"rule","color":"#333","strokeWidth":2,"strokeDash":[8,5]},"encoding":{"x":{"datum":8,"axis":null}}},
    {"data":{"name":"arrows"},"mark":{"type":"rule","color":"#333","strokeWidth":2},"encoding":{"x":{"field":"from","type":"quantitative","axis":null},"x2":{"field":"to"},"y":{"datum":-3.3,"axis":null}}},
    {"data":{"name":"heads"},"mark":{"type":"point","filled":true,"color":"#333","size":55,"opacity":1},"encoding":{"x":{"field":"at","type":"quantitative","axis":null},"y":{"datum":-3.3,"axis":null},"shape":{"field":"dir","type":"nominal","scale":null}}},
    {"data":{"name":"stops"},"mark":{"type":"rule","color":"#333","strokeWidth":2},"encoding":{"x":{"field":"at","type":"quantitative","axis":null},"y":{"datum":-2.1,"axis":null},"y2":{"datum":-4.5}}},
    {"data":{"name":"phases"},"mark":{"type":"text","fontSize":25,"color":"#333","baseline":"middle","align":"center"},"encoding":{"x":{"field":"at","type":"quantitative","axis":null},"y":{"datum":-3.3,"axis":null},"text":{"field":"t"}}}
   ]}
],
"config":{
 "font":"Liberation Sans",
 "view":{"stroke":null},
 "axis":{"labelFont":"Liberation Sans","titleFont":"Liberation Sans","labelColor":"#333","titleColor":"#333","domainColor":"#333","tickColor":"#333","grid":false,"titleFontWeight":"normal","labelFontSize":22,"titleFontSize":22,"domainWidth":2,"tickWidth":2,"tickSize":7,"labelPadding":3},
 "title":{"font":"Liberation Sans","color":"#333"},
 "legend":{"labelFont":"Liberation Sans"},
 "text":{"font":"Liberation Sans"}
}
}
